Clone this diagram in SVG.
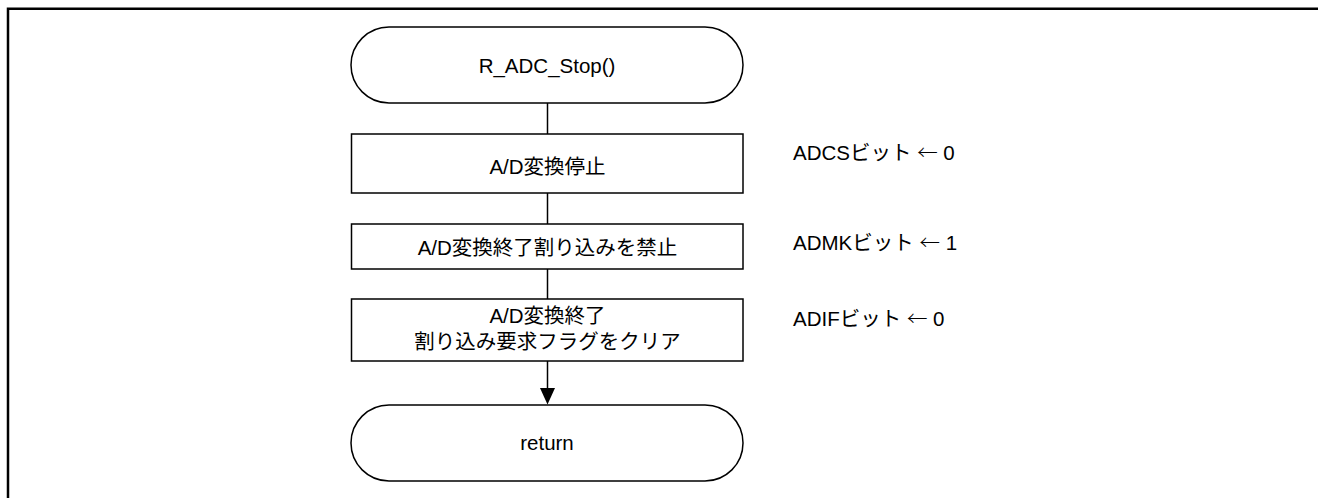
<svg xmlns="http://www.w3.org/2000/svg" width="1318" height="498" viewBox="0 0 1318 498">
<style>
.shape{fill:#fff;stroke:#000;stroke-width:1.5}
.conn{stroke:#000;stroke-width:1.5;fill:none}
.head{fill:#000;stroke:none}
.frame{stroke:#000;stroke-width:2.5;fill:none}
text{font-family:"Liberation Sans","Noto Sans CJK JP",sans-serif;font-size:20.5px;fill:#000}
.c{text-anchor:middle}
.ar{font-family:"Noto Sans CJK JP",sans-serif;font-weight:300}
</style>
<rect width="1318" height="498" fill="#fff"/>
<path class="frame" d="M8,498 V8.7 H1318"/>
<g id="connectors">
<line class="conn" x1="547.5" y1="103" x2="547.5" y2="134"/>
<line class="conn" x1="547.5" y1="193" x2="547.5" y2="224"/>
<line class="conn" x1="547.5" y1="269" x2="547.5" y2="299"/>
<line class="conn" x1="547.5" y1="361" x2="547.5" y2="390"/>
<polygon class="head" points="540,388 555,388 547.5,404.5"/>
</g>
<g id="start">
<rect class="shape" x="351" y="27" width="392" height="76" rx="38" ry="38"/>
<text class="c" x="547" y="73">R_ADC_Stop()</text>
</g>
<g id="box1">
<rect class="shape" x="351.5" y="134" width="391.5" height="59"/>
<text class="c" x="547.5" y="174">A/D変換停止</text>
</g>
<g id="box2">
<rect class="shape" x="351.5" y="224" width="391.5" height="45"/>
<text class="c" x="547.5" y="255">A/D変換終了割り込みを禁止</text>
</g>
<g id="box3">
<rect class="shape" x="351.5" y="299" width="391.5" height="62"/>
<text class="c" x="547.5" y="323">A/D変換終了</text>
<text class="c" x="547.5" y="349">割り込み要求フラグをクリア</text>
</g>
<g id="end">
<rect class="shape" x="351" y="405" width="392" height="76" rx="38" ry="38"/>
<text class="c" x="547" y="450">return</text>
</g>
<g id="notes">
<text x="793" y="160">ADCSビット <tspan class="ar">←</tspan> 0</text>
<text x="793" y="250">ADMKビット <tspan class="ar">←</tspan> 1</text>
<text x="793" y="326">ADIFビット <tspan class="ar">←</tspan> 0</text>
</g>
</svg>
